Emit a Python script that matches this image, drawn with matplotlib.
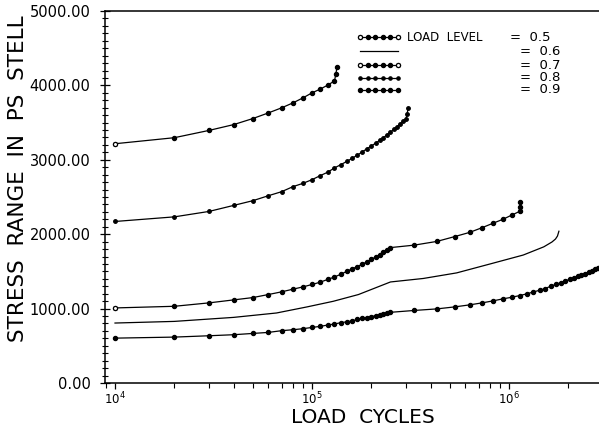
import numpy as np
import matplotlib
matplotlib.use("Agg")
import matplotlib.pyplot as plt
from matplotlib.lines import Line2D
from matplotlib.ticker import LogLocator, MultipleLocator, FormatStrFormatter

# load cycles (thousands) and stress range
n_09 = [10, 20, 30, 40, 50, 60, 70, 80, 90, 100, 110, 120, 130, 132, 134]
s_09 = [3216, 3297, 3395, 3473, 3554, 3630, 3698, 3765, 3833, 3900, 3950, 4003, 4060, 4150, 4250]

n_08 = [10, 20, 30, 40, 50, 60, 70, 80, 90, 100, 110, 120, 130, 140, 150, 160, 170, 180,
        190, 200, 210, 220, 230, 240, 250, 260, 270, 280, 290, 300, 304, 307]
s_08 = [2171, 2233, 2306, 2387, 2450, 2517, 2571, 2639, 2684, 2733, 2787, 2833, 2891, 2935,
        2978, 3021, 3064, 3107, 3149, 3186, 3223, 3260, 3297, 3334, 3372, 3408, 3444, 3480,
        3516, 3552, 3620, 3690]

n_07 = [10, 20, 30, 40, 50, 60, 70, 80, 90, 100, 110, 120, 130, 140, 150, 160, 170, 180,
        190, 200, 210, 220, 230, 240, 250, 330, 430, 530, 630, 730, 830, 930, 1030, 1130,
        1135, 1140]
s_07 = [1009, 1031, 1077, 1117, 1148, 1189, 1225, 1261, 1292, 1324, 1355, 1392, 1425, 1462,
        1500, 1535, 1565, 1597, 1629, 1661, 1693, 1725, 1757, 1789, 1820, 1853, 1903, 1968,
        2024, 2088, 2148, 2200, 2256, 2306, 2370, 2436]

n_06 = [10, 20, 40, 66, 94, 128, 172, 250, 367, 542, 801, 1180, 1500, 1650, 1720, 1760, 1790]
s_06 = [806, 828, 882, 941, 1022, 1098, 1189, 1358, 1405, 1480, 1600, 1720, 1830, 1895,
        1935, 1975, 2040]

n_05 = [10, 20, 30, 40, 50, 60, 70, 80, 90, 100, 110, 120, 130, 140, 150, 160, 170, 180,
        190, 200, 210, 220, 230, 240, 250, 330, 430, 530, 630, 730, 830, 930, 1030, 1130,
        1230, 1330, 1430, 1530, 1630, 1730, 1830, 1930, 2030, 2130, 2230, 2330, 2430, 2530,
        2630, 2730, 2830, 2930]
s_05 = [603, 617, 635, 649, 666, 680, 703, 716, 730, 747, 761, 779, 793, 811, 822, 834, 855,
        868, 880, 892, 904, 916, 928, 939, 950, 975, 996, 1023, 1050, 1077, 1104, 1131, 1152,
        1175, 1198, 1224, 1247, 1270, 1303, 1325, 1350, 1373, 1392, 1412, 1432, 1452, 1470,
        1490, 1510, 1530, 1548, 1568]

levels = ["0.5", "0.6", "0.7", "0.8", "0.9"]
x_label = "LOAD  CYCLES"
y_label = "STRESS  RANGE  IN  PS  STELL"

fig = plt.figure(figsize=(5.99, 4.26), dpi=100)
ax = fig.add_axes([105 / 599, 43 / 426, 494 / 599, 372 / 426])

lw = 0.9
ms = 2.9
def k(n):
    return np.array(n) * 1000.0

ax.plot(k(n_09), s_09, '-', color='black', lw=lw, marker='o', ms=ms)
ax.plot(k(n_09[:1]), s_09[:1], 'o', color='black', mfc='white', ms=ms, mew=0.8)
ax.plot(k(n_08), s_08, '-', color='black', lw=lw, marker='o', ms=ms - 0.4)
ax.plot(k(n_07), s_07, '-', color='black', lw=lw, marker='o', ms=ms)
ax.plot(k(n_07[:1]), s_07[:1], 'o', color='black', mfc='white', ms=ms, mew=0.8)
ax.plot(k(n_06), s_06, '-', color='black', lw=lw)
ax.plot(k(n_05), s_05, '-', color='black', lw=lw, marker='o', ms=ms)

ax.set_xscale('log')
ax.set_xlim(8896, 2.86e6)
ax.set_ylim(0, 5000)

ax.xaxis.set_major_locator(LogLocator(base=10, numticks=10))
ax.xaxis.set_minor_locator(LogLocator(base=10, subs=np.arange(2, 10), numticks=20))
ax.yaxis.set_major_locator(MultipleLocator(1000))
ax.yaxis.set_minor_locator(MultipleLocator(100))
ax.yaxis.set_major_formatter(FormatStrFormatter('%.2f'))

ax.tick_params(axis='x', which='major', direction='out', length=4.5, width=0.9, labelsize=8.5, pad=1)
ax.tick_params(axis='x', which='minor', direction='out', length=3.5, width=0.8)
ax.tick_params(axis='y', which='major', direction='inout', length=7, width=0.9, labelsize=10.5, pad=7)
ax.tick_params(axis='y', which='minor', direction='inout', length=5, width=0.8)

for side in ['left', 'bottom', 'top']:
    ax.spines[side].set_linewidth(1.1)
ax.spines['right'].set_visible(False)

ax.set_xlabel(x_label, fontsize=14.5)
ax.set_ylabel(y_label, fontsize=15.5)
ax.xaxis.set_label_coords(0.522, -0.066)
ax.yaxis.set_label_coords(-0.155, 0.548)

# legend block, drawn by hand like the plotter did
rows_y = [0.913, 0.880, 0.847, 0.817, 0.789]
x0, x1 = 0.601, 0.664
for i, lev in enumerate(levels):
    y = rows_y[i]
    xs = np.linspace(x0, x1, 6)
    if lev == "0.6":
        fig.add_artist(Line2D([x0, x1], [y, y], color='black', lw=lw))
    else:
        fig.add_artist(Line2D(xs, [y] * 6, color='black', lw=lw, marker='o',
                              ms=ms - 0.6 if lev == "0.8" else ms))
        if lev in ("0.5", "0.7"):
            fig.add_artist(Line2D([xs[0], xs[-1]], [y, y], ls='none', marker='o',
                                  color='black', mfc='white', ms=ms, mew=0.8))
    if i == 0:
        fig.text(0.679, y, "LOAD  LEVEL", fontsize=8.5, va='center')
        fig.text(0.851, y, "=  " + lev, fontsize=9.5, va='center')
    else:
        fig.text(0.868, y, "=  " + lev, fontsize=9.5, va='center')

fig.savefig("out.png", dpi=100)
